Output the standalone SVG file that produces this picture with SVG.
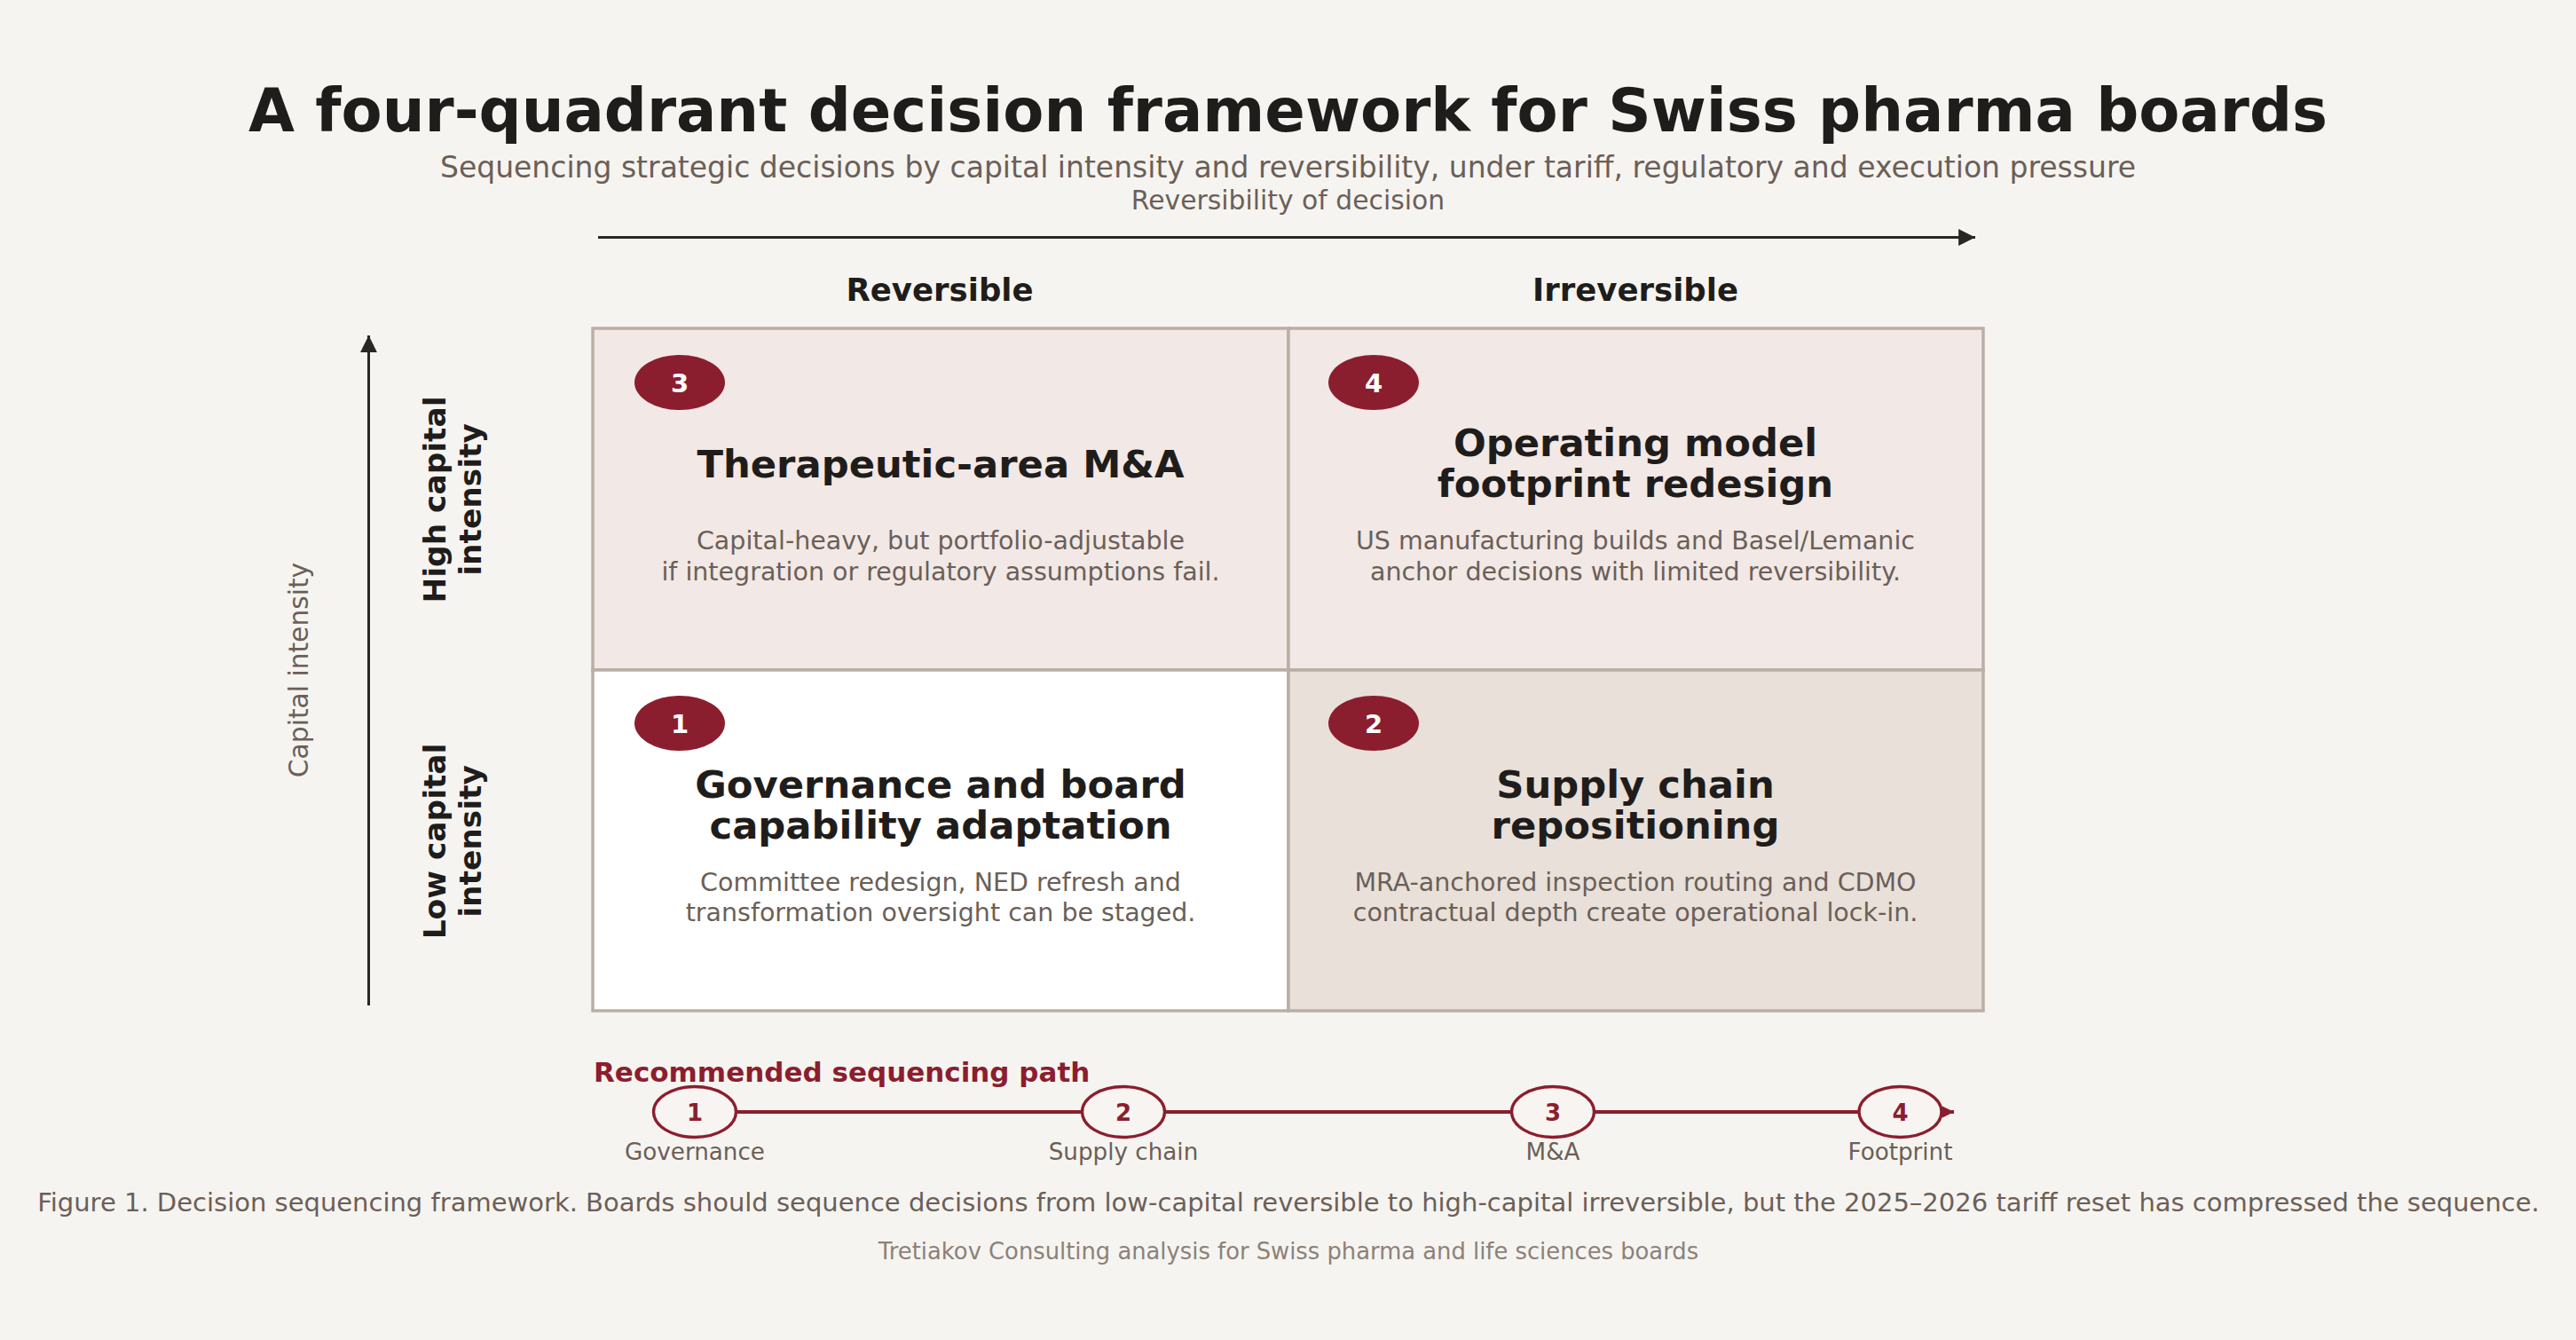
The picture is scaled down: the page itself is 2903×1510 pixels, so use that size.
<svg xmlns="http://www.w3.org/2000/svg" width="2903" height="1510" viewBox="0 0 2903 1510">
<style>
.ttl{font-family:"DejaVu Sans",sans-serif;font-weight:bold;fill:#1f1d1b}
.sub{font-family:"DejaVu Sans",sans-serif;fill:#6b5f58}
.qt{font-family:"DejaVu Sans",sans-serif;font-weight:bold;font-size:43.3px;fill:#1f1d1b;text-anchor:middle}
.qd{font-family:"DejaVu Sans",sans-serif;font-size:28.5px;fill:#6b5f58;text-anchor:middle}
.badge{fill:#8b1e2e}
.bn{font-family:"DejaVu Sans",sans-serif;font-weight:bold;font-size:29px;fill:#ffffff;text-anchor:middle}
.cell{stroke:#bbaea5;stroke-width:3.5}
.step{fill:#f7f4f1;stroke:#8b1e2e;stroke-width:3.4}
.sn{font-family:"DejaVu Sans",sans-serif;font-weight:bold;font-size:26px;fill:#8b1e2e;text-anchor:middle}
.sl{font-family:"DejaVu Sans",sans-serif;font-size:26.2px;fill:#6b5f58;text-anchor:middle}
</style>
<defs>
<marker id="ah" viewBox="0 0 10 10" refX="10" refY="5" markerWidth="6.3" markerHeight="6.3" orient="auto" markerUnits="strokeWidth"><path d="M0,0 L10,5 L0,10 z" fill="#2a2623"/></marker>
<marker id="ahr" viewBox="0 0 10 10" refX="10" refY="5" markerWidth="3.3" markerHeight="3.3" orient="auto" markerUnits="strokeWidth"><path d="M0,0 L10,5 L0,10 z" fill="#8b1e2e"/></marker>
</defs>
<rect width="2903" height="1510" fill="#f6f4f0"/>
<text class="ttl" x="1451.5" y="148" font-size="67.2" text-anchor="middle">A four-quadrant decision framework for Swiss pharma boards</text>
<text class="sub" x="1451.5" y="200" font-size="33" text-anchor="middle">Sequencing strategic decisions by capital intensity and reversibility, under tariff, regulatory and execution pressure</text>
<text class="sub" x="1451.5" y="236" font-size="29.8" text-anchor="middle">Reversibility of decision</text>
<text class="ttl" x="1059" y="339" font-size="35.5" text-anchor="middle">Reversible</text>
<text class="ttl" x="1843" y="339" font-size="35.5" text-anchor="middle">Irreversible</text>
<text class="sub" transform="translate(347,755) rotate(-90)" font-size="29.7" text-anchor="middle">Capital intensity</text>
<text class="ttl" transform="translate(502,563) rotate(-90)" font-size="34.4" text-anchor="middle"><tspan x="0" y="0">High capital</tspan><tspan x="0" y="40">intensity</tspan></text>
<text class="ttl" transform="translate(502,948) rotate(-90)" font-size="34.4" text-anchor="middle"><tspan x="0" y="0">Low capital</tspan><tspan x="0" y="40">intensity</tspan></text>
<g id="connectors">
<line x1="674" y1="267.5" x2="2226" y2="267.5" stroke="#2a2623" stroke-width="3" marker-end="url(#ah)"/>
<line x1="415.5" y1="1133" x2="415.5" y2="378" stroke="#2a2623" stroke-width="3" marker-end="url(#ah)"/>
<line x1="829" y1="1253" x2="2202" y2="1253" stroke="#8b1e2e" stroke-width="4" marker-end="url(#ahr)"/>
</g>
<g id="q3">
<rect class="cell" x="668" y="370" width="784" height="385" fill="#f2e8e5"/>
<ellipse class="badge" cx="766" cy="431" rx="51" ry="31"/>
<text class="bn" x="766" y="442">3</text>
<text class="qt" x="1060" y="538">Therapeutic-area M&amp;A</text>
<text class="qd" x="1060" y="619">Capital-heavy, but portfolio-adjustable</text>
<text class="qd" x="1060" y="654">if integration or regulatory assumptions fail.</text>
</g>
<g id="q4">
<rect class="cell" x="1452" y="370" width="783" height="385" fill="#f2e8e5"/>
<ellipse class="badge" cx="1548" cy="431" rx="51" ry="31"/>
<text class="bn" x="1548" y="442">4</text>
<text class="qt" x="1843" y="514">Operating model</text>
<text class="qt" x="1843" y="560">footprint redesign</text>
<text class="qd" x="1843" y="619">US manufacturing builds and Basel/Lemanic</text>
<text class="qd" x="1843" y="654">anchor decisions with limited reversibility.</text>
</g>
<g id="q1">
<rect class="cell" x="668" y="755" width="784" height="384" fill="#ffffff"/>
<ellipse class="badge" cx="766" cy="815" rx="51" ry="31"/>
<text class="bn" x="766" y="826">1</text>
<text class="qt" x="1060" y="899">Governance and board</text>
<text class="qt" x="1060" y="945">capability adaptation</text>
<text class="qd" x="1060" y="1004">Committee redesign, NED refresh and</text>
<text class="qd" x="1060" y="1038">transformation oversight can be staged.</text>
</g>
<g id="q2">
<rect class="cell" x="1452" y="755" width="783" height="384" fill="#e8e0d9"/>
<ellipse class="badge" cx="1548" cy="815" rx="51" ry="31"/>
<text class="bn" x="1548" y="826">2</text>
<text class="qt" x="1843" y="899">Supply chain</text>
<text class="qt" x="1843" y="945">repositioning</text>
<text class="qd" x="1843" y="1004">MRA-anchored inspection routing and CDMO</text>
<text class="qd" x="1843" y="1038">contractual depth create operational lock-in.</text>
</g>
<text x="669" y="1219" font-family="DejaVu Sans, sans-serif" font-weight="bold" font-size="31" fill="#8b1e2e">Recommended sequencing path</text>
<g id="s1"><ellipse class="step" cx="783" cy="1253" rx="46.5" ry="28.5"/><text class="sn" x="783" y="1263">1</text><text class="sl" x="783" y="1307">Governance</text></g>
<g id="s2"><ellipse class="step" cx="1266" cy="1253" rx="46.5" ry="28.5"/><text class="sn" x="1266" y="1263">2</text><text class="sl" x="1266" y="1307">Supply chain</text></g>
<g id="s3"><ellipse class="step" cx="1750" cy="1253" rx="46.5" ry="28.5"/><text class="sn" x="1750" y="1263">3</text><text class="sl" x="1750" y="1307">M&amp;A</text></g>
<g id="s4"><ellipse class="step" cx="2141.5" cy="1253" rx="46.5" ry="28.5"/><text class="sn" x="2141.5" y="1263">4</text><text class="sl" x="2141.5" y="1307">Footprint</text></g>
<text class="sub" x="1452" y="1365" font-size="29" text-anchor="middle">Figure 1. Decision sequencing framework. Boards should sequence decisions from low-capital reversible to high-capital irreversible, but the 2025–2026 tariff reset has compressed the sequence.</text>
<text x="1452" y="1419" font-family="DejaVu Sans, sans-serif" font-size="25.8" fill="#8c817a" text-anchor="middle">Tretiakov Consulting analysis for Swiss pharma and life sciences boards</text>
</svg>
